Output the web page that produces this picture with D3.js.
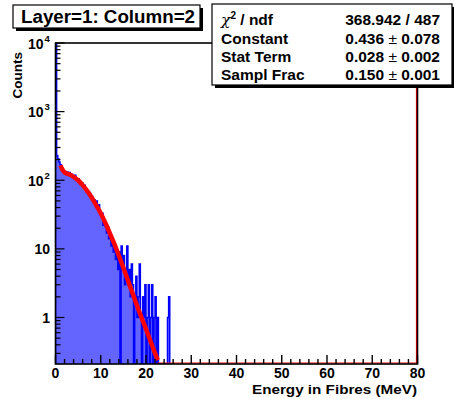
<!DOCTYPE html>
<html>
<head>
<meta charset="utf-8">
<script src="https://cdn.jsdelivr.net/npm/d3@7"></script>
<style>
  html, body { margin: 0; padding: 0; background: #fff; }
  svg { display: block; font-family: "Liberation Sans", Arial, sans-serif; font-weight: bold; }
</style>
</head>
<body>
<svg id="chart" width="454" height="399"></svg>
<script>
// histogram: counts per 0.25 MeV bin, starting at 0 MeV (bins above the last one are empty)
const binWidth = 0.25;
const counts = [
  20000, 230, 205, 185, 168, 158, 146, 138, 134, 128,
  132, 124, 130, 118, 122, 114, 112, 118, 104, 100,
  104, 94, 90, 92, 82, 85, 74, 72, 68, 62,
  64, 55, 58, 50, 52, 46, 50, 40, 44, 35,
  30, 33, 22, 26, 21, 17, 21, 14, 16, 11,
  14, 9, 12, 7, 9, 5, 9, 0, 11, 6,
  8, 3, 5, 11, 3, 5, 2, 6, 3, 0,
  2, 4, 1, 2, 6, 1, 0, 2, 1, 3,
  0, 1, 3, 0, 1, 3, 0, 1, 2, 0,
  1, 0, 0, 0, 0, 0, 0, 0, 0, 1,
  2
];

// fitted curve
const fitE = [1.1, 1.6, 2.2, 3, 4, 5, 6, 7, 8, 9, 10, 11, 12, 13, 14, 15, 16, 17, 18, 19, 20, 21, 22, 22.6];
const fitY = [165, 140, 128, 122, 112, 100, 85, 70, 56, 43, 33, 24, 17, 11.8, 8, 5.3, 3.5, 2.3, 1.5, 1.0, 0.68, 0.45, 0.3, 0.24];

const xTicks = [0, 10, 20, 30, 40, 50, 60, 70, 80];
const yDecades = [0, 1, 2, 3, 4]; // 10^k

const statNames = ["Constant", "Stat Term", "Sampl Frac"];
const statValues = ["0.436", "0.028", "0.150"];
const statErrors = ["0.078", "0.002", "0.001"];
const chi2Text = "368.942 / 487";

const svg = d3.select("#chart");
const L = 55.5, R = 417.5, T = 43, B = 364;

const x = d3.scaleLinear().domain([0, 80]).range([L, R]);
const y = d3.scaleLog().domain([0.21, 10000]).range([B, T]).clamp(true);

svg.append("defs").append("clipPath").attr("id", "plot")
  .append("rect").attr("x", L).attr("y", T).attr("width", R - L).attr("height", B - T);

// histogram step points
const pts = [[0, 0]];
counts.forEach((c, i) => pts.push([i * binWidth, c]));
pts.push([counts.length * binWidth, counts[counts.length - 1]]);
pts.push([counts.length * binWidth, 0]);

const yv = v => v > 0 ? y(v) : B;

const g = svg.append("g").attr("clip-path", "url(#plot)");

g.append("path")
  .datum(pts)
  .attr("d", d3.area().curve(d3.curveStepAfter)
    .x(d => x(d[0])).y0(B).y1(d => yv(d[1])))
  .attr("fill", "#6464ff");

g.append("path")
  .datum(pts)
  .attr("d", d3.line().curve(d3.curveStepAfter)
    .x(d => x(d[0])).y(d => yv(d[1])))
  .attr("fill", "none")
  .attr("stroke", "#0000ff")
  .attr("stroke-width", 1.5);

// fit function: clipped part along the bottom and right edge
g.append("path")
  .attr("d", d3.line()([[x(fitE[fitE.length - 1]), B - 1], [x(80) - 1, B - 1], [x(80) - 1, T]]))
  .attr("fill", "none")
  .attr("stroke", "#ff0000")
  .attr("stroke-width", 1.2);

g.append("path")
  .datum(fitE.map((e, i) => [e, fitY[i]]))
  .attr("d", d3.line().curve(d3.curveMonotoneX)
    .x(d => x(d[0])).y(d => y(d[1])))
  .attr("fill", "none")
  .attr("stroke", "#ff0000")
  .attr("stroke-width", 4.5)
  .attr("stroke-linejoin", "round");

// frame
svg.append("rect")
  .attr("x", L).attr("y", T).attr("width", R - L).attr("height", B - T)
  .attr("fill", "none").attr("stroke", "#000").attr("stroke-width", 1.6);

// x ticks (pointing up into the plot)
const xMinor = d3.range(0, 81, 2);
svg.append("g").selectAll("line").data(xMinor).enter().append("line")
  .attr("x1", d => x(d)).attr("x2", d => x(d))
  .attr("y1", B).attr("y2", d => d % 10 === 0 ? B - 9 : B - 5)
  .attr("stroke", "#000").attr("stroke-width", 1.4);

svg.append("g").selectAll("text").data(xTicks).enter().append("text")
  .attr("x", d => x(d)).attr("y", 378)
  .attr("text-anchor", "middle")
  .style("font-size", "14px")
  .text(d => d);

// y ticks
const yMinor = [];
yDecades.forEach(k => {
  for (let m = 1; m <= 9; m++) yMinor.push({ v: m * Math.pow(10, k), major: m === 1 });
});
for (let m = 3; m <= 9; m++) yMinor.push({ v: m / 10, major: false });

svg.append("g").selectAll("line").data(yMinor.filter(d => d.v <= 10000)).enter().append("line")
  .attr("x1", L).attr("x2", d => d.major ? L + 9 : L + 5)
  .attr("y1", d => y(d.v)).attr("y2", d => y(d.v))
  .attr("stroke", "#000").attr("stroke-width", 1.2);

const yLab = svg.append("g").selectAll("g").data(yDecades).enter().append("g")
  .attr("transform", d => `translate(0,${y(Math.pow(10, d))})`);
yLab.filter(d => d < 2).append("text")
  .attr("x", 50).attr("y", 5.5).attr("text-anchor", "end")
  .style("font-size", "14px")
  .text(d => d === 0 ? "1" : "10");
yLab.filter(d => d >= 2).append("text")
  .attr("x", 43.5).attr("y", 5.5).attr("text-anchor", "end")
  .style("font-size", "14px").text("10");
yLab.filter(d => d >= 2).append("text")
  .attr("x", 44.5).attr("y", -1.5).attr("text-anchor", "start")
  .style("font-size", "9.5px").text(d => d);

// axis titles
svg.append("text")
  .attr("x", 417).attr("y", 394).attr("text-anchor", "end")
  .attr("textLength", 165).attr("lengthAdjust", "spacingAndGlyphs")
  .style("font-size", "13px")
  .text("Energy in Fibres (MeV)");

svg.append("text")
  .attr("transform", "translate(22,52) rotate(-90)")
  .attr("text-anchor", "end")
  .style("font-size", "13.5px")
  .text("Counts");

// title box
svg.append("rect").attr("x", 16).attr("y", 8).attr("width", 187).attr("height", 23).attr("fill", "#000");
svg.append("rect").attr("x", 13).attr("y", 5).attr("width", 187).attr("height", 23)
  .attr("fill", "#fff").attr("stroke", "#000").attr("stroke-width", 1.2);
svg.append("text")
  .attr("x", 21).attr("y", 23)
  .attr("textLength", 174).attr("lengthAdjust", "spacingAndGlyphs")
  .style("font-size", "18px")
  .text("Layer=1: Column=2");

// stats box
svg.append("rect").attr("x", 215).attr("y", 7).attr("width", 240).attr("height", 81).attr("fill", "#000");
svg.append("rect").attr("x", 212).attr("y", 4).attr("width", 240).attr("height", 81)
  .attr("fill", "#fff").attr("stroke", "#000").attr("stroke-width", 1.2);

const rowY = [25, 43.5, 62, 80];
const chi = svg.append("text").attr("x", 221).attr("y", rowY[0]).style("font-size", "15.5px");
chi.append("tspan").style("font-weight", "normal").style("font-family", "DejaVu Serif, serif")
  .style("font-style", "italic").text("χ");
chi.append("tspan").attr("dy", -6).style("font-size", "10px").text("2");
chi.append("tspan").attr("dy", 6).text(" / ndf");
svg.append("text").attr("x", 440).attr("y", rowY[0]).attr("text-anchor", "end")
  .style("font-size", "15.5px").text(chi2Text);

statNames.forEach((n, i) => {
  svg.append("text").attr("x", 221).attr("y", rowY[i + 1])
    .style("font-size", "15.5px").text(n);
  const t = svg.append("text").attr("x", 440).attr("y", rowY[i + 1]).attr("text-anchor", "end")
    .style("font-size", "15.5px");
  t.append("tspan").text(statValues[i]);
  t.append("tspan").style("font-weight", "normal").text(" ± ");
  t.append("tspan").text(statErrors[i]);
});
</script>
</body>
</html>
